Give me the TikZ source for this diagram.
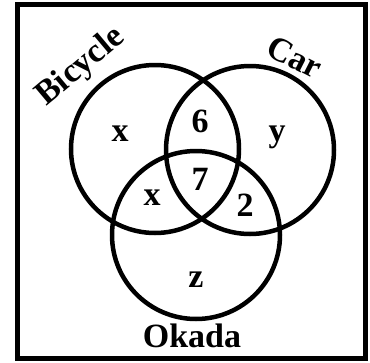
\documentclass[tikz,border=0pt]{standalone}
\usepackage{fontspec}
\setmainfont{Liberation Serif}
\begin{document}
\begin{tikzpicture}[x=1pt,y=-1pt,
  set/.style={line width=4.5pt},
  lbl/.style={font=\fontsize{34}{36}\selectfont\bfseries,inner sep=0pt}]
  \useasboundingbox (0,0) rectangle (370,362);
  \draw[line width=5pt] (17.5,4.5) rectangle (365,358.5);
  % the three sets
  \coordinate (bike) at (155,149);
  \coordinate (car) at (250,150);
  \coordinate (okada) at (196,235);
  \draw[set] (bike) circle (84pt);
  \draw[set] (car) circle (84pt);
  \draw[set] (okada) circle (84pt);
  % set names
  \node[lbl,rotate=40] (tbike) at (81,67) {Bicycle};
  \node[lbl,rotate=-27] (tcar) at (295,57) {Car};
  \node[lbl] (tokada) at (192,336) {Okada};
  % regions
  \node[lbl] (rx) at (120,134) {x};
  \node[lbl] (r6) at (200,121) {6};
  \node[lbl] (ry) at (277,137) {y};
  \node[lbl] (r7) at (200,179) {7};
  \node[lbl] (rxo) at (152,198) {x};
  \node[lbl] (r2) at (245,205) {2};
  \node[lbl] (rz) at (196,280) {z};
\end{tikzpicture}
\end{document}
